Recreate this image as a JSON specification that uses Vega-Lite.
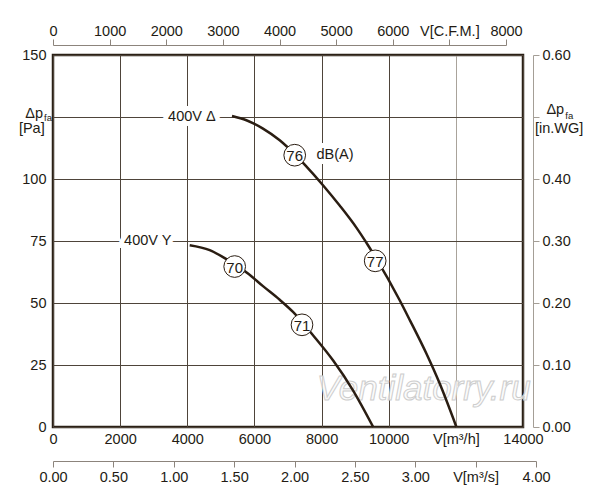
{
  "$schema": "https://vega.github.io/schema/vega-lite/v6.json",
  "width": 470,
  "height": 372,
  "autosize": {"type": "none"},
  "padding": {"left": 53, "top": 55, "right": 77, "bottom": 73},
  "background": "white",
  "config": {
    "view": {"stroke": "#2a2016", "strokeWidth": 2.5},
    "font": "Liberation Sans",
    "axis": {"labelFont": "Liberation Sans", "labelFontSize": 14.5, "labelColor": "#231b14"},
    "text": {"font": "Liberation Sans", "color": "#231b14", "fontSize": 14.5}
  },
  "datasets": {
    "curves": [
      {"s": "D", "q": 5332, "p": 125.4}, {"s": "D", "q": 5761, "p": 123.7}, {"s": "D", "q": 6255, "p": 120.3},
      {"s": "D", "q": 6753, "p": 115.6}, {"s": "D", "q": 7229, "p": 109.6}, {"s": "D", "q": 7497, "p": 105.8},
      {"s": "D", "q": 8042, "p": 97.5}, {"s": "D", "q": 8539, "p": 89.3}, {"s": "D", "q": 9037, "p": 80.4},
      {"s": "D", "q": 9383, "p": 73.3}, {"s": "D", "q": 9603, "p": 68.5}, {"s": "D", "q": 10327, "p": 51.1},
      {"s": "D", "q": 10625, "p": 43.2}, {"s": "D", "q": 11122, "p": 29.6}, {"s": "D", "q": 11519, "p": 17.5},
      {"s": "D", "q": 12016, "p": 0},
      {"s": "Y", "q": 4072, "p": 73.3}, {"s": "Y", "q": 4668, "p": 71.3}, {"s": "Y", "q": 5064, "p": 68.5},
      {"s": "Y", "q": 5808, "p": 61.9}, {"s": "Y", "q": 6255, "p": 56.8}, {"s": "Y", "q": 6753, "p": 51.3},
      {"s": "Y", "q": 7149, "p": 46.4}, {"s": "Y", "q": 7745, "p": 37.0}, {"s": "Y", "q": 8340, "p": 26.9},
      {"s": "Y", "q": 8936, "p": 14.8}, {"s": "Y", "q": 9538, "p": 0}
    ],
    "circles": [
      {"q": 7200, "p": 109.6, "t": "76"},
      {"q": 9597, "p": 67.0, "t": "77"},
      {"q": 5412, "p": 64.7, "t": "70"},
      {"q": 7417, "p": 41.2, "t": "71"}
    ],
    "notes": [
      {"g": "hr", "t": "400V Δ", "q": 4846, "p": 125.2},
      {"g": "hr", "t": "400V Y", "q": 3527, "p": 74.8},
      {"g": "hl", "t": "dB(A)", "q": 7846, "p": 109.6},
      {"g": "r", "t": "Δp", "q": -298, "p": 124.6},
      {"g": "r", "t": "[Pa]", "q": -247, "p": 118.7},
      {"g": "s", "t": "fa", "q": -268, "p": 123.4},
      {"g": "l", "t": "Δp", "q": 14697, "p": 126.2},
      {"g": "s", "t": "fa", "q": 15260, "p": 124.3},
      {"g": "l", "t": "[in.WG]", "q": 14357, "p": 118.6},
      {"g": "wm", "t": "Ventilatorry.ru", "q": 11042, "p": 15.5}
    ]
  },
  "layer": [
    {
      "encoding": {
        "x": {
          "field": "q", "type": "quantitative", "title": null,
          "scale": {"domain": [0, 14000], "nice": false, "zero": false},
          "axis": {
            "orient": "bottom",
            "values": [0, 2000, 4000, 6000, 8000, 10000, 12000, 14000],
            "format": "d",
            "labelExpr": "datum.value == 12000 ? 'V[m³/h]' : datum.label",
            "domain": false, "ticks": false, "tickSize": 0, "labelPadding": 5,
            "labelFlush": false, "labelOverlap": false, "labelBound": false,
            "grid": true, "gridWidth": 1,
            "gridColor": {"condition": {"test": "datum.value == 12000", "value": "#a9a39b"}, "value": "#4e443a"}
          }
        },
        "y": {
          "field": "p", "type": "quantitative", "title": null,
          "scale": {"domain": [0, 150], "nice": false},
          "axis": {
            "orient": "left",
            "values": [0, 25, 50, 75, 100, 125, 150],
            "labelExpr": "datum.value == 125 ? '' : datum.label",
            "domain": false, "ticks": false, "tickSize": 0, "labelPadding": 7,
            "labelFlush": false, "labelOverlap": false,
            "grid": true, "gridWidth": 1, "gridColor": "#4e443a"
          }
        }
      },
      "layer": [
        {
          "data": {"name": "notes"},
          "transform": [{"filter": "datum.g == 'hr'"}],
          "mark": {"type": "text", "align": "right", "baseline": "middle", "fill": "white", "stroke": "white", "strokeWidth": 10},
          "encoding": {"text": {"field": "t"}}
        },
        {
          "data": {"name": "notes"},
          "transform": [{"filter": "datum.g == 'hl'"}],
          "mark": {"type": "text", "align": "left", "baseline": "middle", "fill": "white", "stroke": "white", "strokeWidth": 10},
          "encoding": {"text": {"field": "t"}}
        },
        {
          "data": {"name": "notes"},
          "transform": [{"filter": "datum.g == 'wm'"}],
          "mark": {"type": "text", "align": "center", "baseline": "middle", "fontSize": 35, "fontStyle": "italic", "fill": "#fbfbfb", "fillOpacity": 0.8, "stroke": "#cdcdcd", "strokeWidth": 1},
          "encoding": {"text": {"field": "t"}}
        },
        {
          "data": {"name": "curves"},
          "mark": {"type": "line", "interpolate": "monotone", "strokeWidth": 2.5, "color": "#2a1d12"},
          "encoding": {"detail": {"field": "s"}}
        },
        {
          "data": {"name": "circles"},
          "mark": {"type": "point", "shape": "circle", "filled": true, "fill": "white", "stroke": "#2a1d12", "strokeWidth": 1, "size": 470, "opacity": 1}
        },
        {
          "data": {"name": "circles"},
          "mark": {"type": "text", "align": "center", "baseline": "middle", "fontSize": 15, "dy": 1},
          "encoding": {"text": {"field": "t"}}
        },
        {
          "data": {"name": "notes"},
          "transform": [{"filter": "datum.g == 'hr'"}],
          "mark": {"type": "text", "align": "right", "baseline": "middle"},
          "encoding": {"text": {"field": "t"}}
        },
        {
          "data": {"name": "notes"},
          "transform": [{"filter": "datum.g == 'hl'"}],
          "mark": {"type": "text", "align": "left", "baseline": "middle"},
          "encoding": {"text": {"field": "t"}}
        },
        {
          "data": {"name": "notes"},
          "transform": [{"filter": "datum.g == 'r'"}],
          "mark": {"type": "text", "align": "right", "baseline": "alphabetic"},
          "encoding": {"text": {"field": "t"}}
        },
        {
          "data": {"name": "notes"},
          "transform": [{"filter": "datum.g == 'l'"}],
          "mark": {"type": "text", "align": "left", "baseline": "alphabetic"},
          "encoding": {"text": {"field": "t"}}
        },
        {
          "data": {"name": "notes"},
          "transform": [{"filter": "datum.g == 's'"}],
          "mark": {"type": "text", "align": "left", "baseline": "alphabetic", "fontSize": 9.5},
          "encoding": {"text": {"field": "t"}}
        }
      ]
    },
    {
      "data": {"values": [{"cfm": 0}, {"cfm": 8000}]},
      "mark": {"type": "point", "opacity": 0},
      "encoding": {
        "x": {
          "field": "cfm", "type": "quantitative", "title": null,
          "scale": {"domain": [0, 8000], "range": [0, 453], "nice": false},
          "axis": {
            "orient": "top", "offset": 10,
            "values": [0, 1000, 2000, 3000, 4000, 5000, 6000, 7000, 8000],
            "format": "d",
            "labelExpr": "datum.value == 7000 ? 'V[C.F.M.]' : datum.label",
            "tickSize": 6, "labelPadding": 1, "grid": false,
            "domainColor": "#8c847c", "tickColor": "#8c847c",
            "labelFlush": false, "labelOverlap": false, "labelBound": false
          }
        }
      }
    },
    {
      "data": {"values": [{"wg": 0}, {"wg": 0.6}]},
      "mark": {"type": "point", "opacity": 0},
      "encoding": {
        "y": {
          "field": "wg", "type": "quantitative", "title": null,
          "scale": {"domain": [0, 0.6], "nice": false},
          "axis": {
            "orient": "right", "offset": 10,
            "values": [0, 0.1, 0.2, 0.3, 0.4, 0.5, 0.6],
            "format": ".2f",
            "labelExpr": "abs(datum.value - 0.5) < 0.001 ? '' : datum.label",
            "tickSize": 6, "labelPadding": 3, "grid": false,
            "domainColor": "#a49e96", "tickColor": "#a49e96",
            "labelFlush": false, "labelOverlap": false
          }
        }
      }
    },
    {
      "data": {"values": [{"ms": 0}, {"ms": 4}]},
      "mark": {"type": "point", "opacity": 0},
      "encoding": {
        "x": {
          "field": "ms", "type": "quantitative", "title": null,
          "scale": {"domain": [0, 4], "range": [0, 483], "nice": false},
          "axis": {
            "orient": "bottom", "offset": 34,
            "values": [0, 0.5, 1, 1.5, 2, 2.5, 3, 3.5, 4],
            "format": ".2f",
            "labelExpr": "datum.value == 3.5 ? 'V[m³/s]' : datum.label",
            "tickSize": 6, "labelPadding": 3, "grid": false,
            "domainColor": "#8c847c", "tickColor": "#8c847c",
            "labelFlush": false, "labelOverlap": false, "labelBound": false
          }
        }
      }
    }
  ],
  "resolve": {"scale": {"x": "independent", "y": "independent"}}
}
